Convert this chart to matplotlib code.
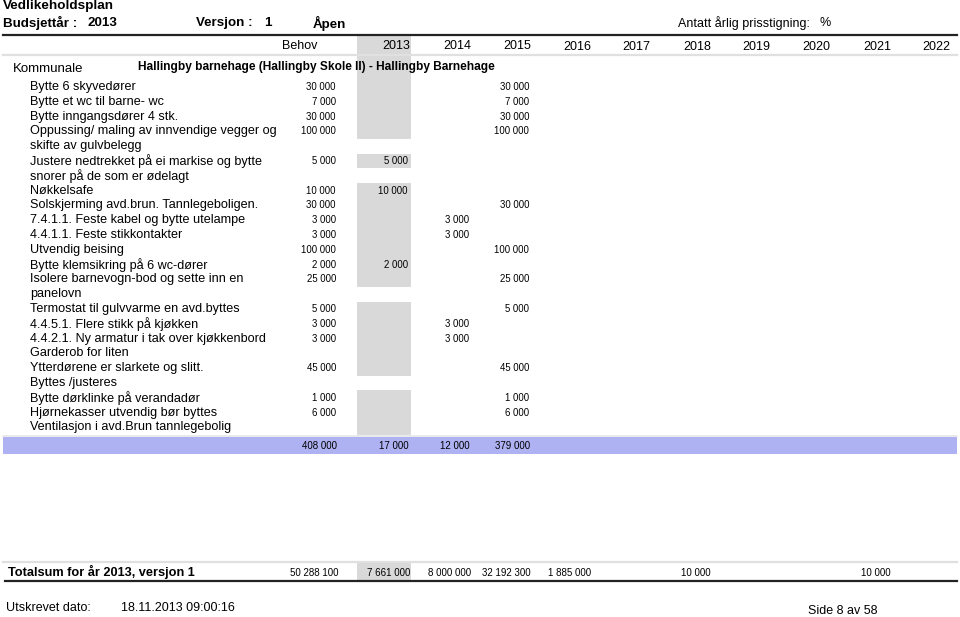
import matplotlib.pyplot as plt
from matplotlib.patches import Rectangle

# --- data ---
years = ['2013', '2014', '2015', '2016', '2017', '2018', '2019', '2020', '2021', '2022']
items = [
    "Bytte 6 skyvedører",
    "Bytte et wc til barne- wc",
    "Bytte inngangsdører 4 stk.",
    "Oppussing/ maling av innvendige vegger og\nskifte av gulvbelegg",
    "Justere nedtrekket på ei markise og bytte\nsnorer på de som er ødelagt",
    "Nøkkelsafe",
    "Solskjerming avd.brun. Tannlegeboligen.",
    "7.4.1.1. Feste kabel og bytte utelampe",
    "4.4.1.1. Feste stikkontakter",
    "Utvendig beising",
    "Bytte klemsikring på 6 wc-dører",
    "Isolere barnevogn-bod og sette inn en\npanelovn",
    "Termostat til gulvvarme en avd.byttes",
    "4.4.5.1. Flere stikk på kjøkken",
    "4.4.2.1. Ny armatur i tak over kjøkkenbord",
    "Garderob for liten",
    "Ytterdørene er slarkete og slitt.\nByttes /justeres",
    "Bytte dørklinke på verandadør",
    "Hjørnekasser utvendig bør byttes",
    "Ventilasjon i avd.Brun tannlegebolig",
]
behov = [30000, 7000, 30000, 100000, 5000, 10000, 30000, 3000, 3000, 100000,
         2000, 25000, 5000, 3000, 3000, None, 45000, 1000, 6000, None]
y2013 = [None, None, None, None, 5000, 10000, None, None, None, None,
         2000, None, None, None, None, None, None, None, None, None]
y2014 = [None, None, None, None, None, None, None, 3000, 3000, None,
         None, None, None, 3000, 3000, None, None, None, None, None]
y2015 = [30000, 7000, 30000, 100000, None, None, 30000, None, None, 100000,
         None, 25000, 5000, None, None, None, 45000, 1000, 6000, None]
totalsum = [50288100, 7661000, 8000000, 32192300, 1885000, None, 10000, None, None, 10000, None]

FONT = 'Liberation Sans'


def fmt(v):
    return f"{v:,}".replace(",", " ")


fig = plt.figure(figsize=(9.6, 6.17), dpi=100)
ax = fig.add_axes([0, 0, 1, 1])
ax.set_xlim(0, 960)
ax.set_ylim(617, 0)
ax.axis('off')

gray = '#d9d9d9'
# column right edges: Behov, 2013..2022
col_r = [338, 410, 471, 531, 591, 650, 711, 770, 830, 891, 950]

# header
ax.text(3, 6, "Vedlikeholdsplan", fontsize=9.7, fontweight='bold', family=FONT, va='center')
ax.text(3, 23, "Budsjettår :", fontsize=9.6, fontweight='bold', family=FONT, va='center')
ax.text(88, 23, "2013", fontsize=9.6, fontweight='bold', family=FONT, va='center')
ax.text(196, 23, "Versjon :", fontsize=9.6, fontweight='bold', family=FONT, va='center')
ax.text(264, 23, "1", fontsize=9.6, fontweight='bold', family=FONT, va='center')
ax.text(313, 23, "Åpen", fontsize=9.6, fontweight='bold', family=FONT, va='center')
ax.text(678, 23, "Antatt årlig prisstigning:", fontsize=9, family=FONT, va='center')
ax.text(820, 23, "%", fontsize=9, family=FONT, va='center')

# gray column (2013)
ax.add_patch(Rectangle((357, 36), 54, 44, color=gray, lw=0, zorder=0))

ax.plot([3, 957], [35, 35], color='#222222', lw=1.6)
ax.plot([3, 957], [55, 55], color='#e0e0e0', lw=1.6)

ax.text(300, 46, "Behov", fontsize=9, family=FONT, va='center', ha='center')
for i, yr in enumerate(years):
    ax.text(col_r[i + 1], 46 if i < 3 else 47, yr, fontsize=9, family=FONT, va='center', ha='right')

ax.text(13, 69, "Kommunale", fontsize=9.5, family=FONT, va='center')
ax.text(138, 67, "Hallingby barnehage (Hallingby Skole II) - Hallingby Barnehage",
        fontsize=8.6, fontweight='bold', family=FONT, va='center')

# item rows
pitch = 14.8
y = 87
for k, name in enumerate(items):
    lines = name.split("\n")
    ax.add_patch(Rectangle((357, y - pitch / 2), 54, pitch, color=gray, lw=0, zorder=0))
    for j, ln in enumerate(lines):
        ax.text(30, y + j * pitch, ln, fontsize=9.1, family=FONT, va='center')
    for c, col in enumerate([behov, y2013, y2014, y2015]):
        if col[k] is not None:
            ax.text(col_r[c] - 2, y, fmt(col[k]), fontsize=6.9, family=FONT, va='center', ha='right')
    y += pitch * len(lines)

# subtotal band
ax.plot([3, 957], [436, 436], color='#e6e6e6', lw=1.2)
ax.add_patch(Rectangle((3, 437), 954, 17, color='#aeb2f2', lw=0, zorder=0))
for c, col in enumerate([behov, y2013, y2014, y2015]):
    s = sum(v for v in col if v is not None)
    ax.text(col_r[c] - 1, 446, fmt(s), fontsize=7, family=FONT, va='center', ha='right')

# total sum
ax.plot([3, 957], [562, 562], color='#e0e0e0', lw=1.6)
ax.add_patch(Rectangle((357, 563), 54, 18, color=gray, lw=0, zorder=0))
ax.plot([5, 957], [581, 581], color='#222222', lw=1.6)
ax.text(8, 572, "Totalsum for år 2013, versjon 1", fontsize=9.2, fontweight='bold',
        family=FONT, va='center')
for c, v in enumerate(totalsum):
    if v is not None:
        ax.text(col_r[c] + (1 if c == 0 else 0), 573, fmt(v), fontsize=7, family=FONT,
                va='center', ha='right')

# footer
ax.text(6, 608, "Utskrevet dato:", fontsize=9, family=FONT, va='center')
ax.text(121, 608, "18.11.2013 09:00:16", fontsize=9, family=FONT, va='center')
ax.text(808, 611, "Side 8 av 58", fontsize=9, family=FONT, va='center')

fig.savefig("out.png", dpi=100)
